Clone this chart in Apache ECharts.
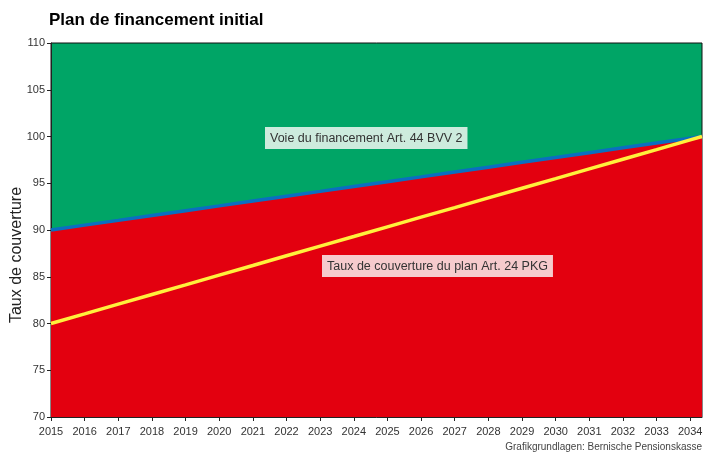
<!DOCTYPE html>
<html><head><meta charset="utf-8">
<script src="https://cdn.jsdelivr.net/npm/echarts@6/dist/echarts.min.js"></script>
<style>html,body{margin:0;padding:0;background:#fff}#c{width:704px;height:452px}</style>
</head><body><div id="c"></div>
<script>
const years = [2015, 2016, 2017, 2018, 2019, 2020, 2021, 2022, 2023, 2024, 2025, 2026, 2027, 2028, 2029, 2030, 2031, 2032, 2033, 2034];
const voieFinancement = [90, 90.52, 91.03, 91.55, 92.07, 92.58, 93.10, 93.62, 94.13, 94.65, 95.17, 95.68, 96.20, 96.72, 97.24, 97.75, 98.27, 98.79, 99.30, 99.82];
const tauxPlan = [80, 81.03, 82.07, 83.10, 84.13, 85.17, 86.20, 87.24, 88.27, 89.30, 90.34, 91.37, 92.40, 93.44, 94.47, 95.50, 96.54, 97.57, 98.60, 99.64];
// end of the plotted period (right edge of the chart) and the values reached there
const xEnd = 2034.35;
const voieEnd = 100;
const tauxEnd = 100;
const yMin = 70, yMax = 110, yStep = 5;

const voieData = years.map((y, i) => [y, voieFinancement[i]]).concat([[xEnd, voieEnd]]);
const tauxData = years.map((y, i) => [y, tauxPlan[i]]).concat([[xEnd, tauxEnd]]);

const font = '"Liberation Sans", Arial, Helvetica, sans-serif';
const chart = echarts.init(document.getElementById('c'));
chart.setOption({
  animation: false,
  title: {text: 'Plan de financement initial', left: 44, top: 7,
    textStyle: {fontFamily: font, fontWeight: 'bold', fontSize: 17, color: '#000'}},
  grid: {left: 51, right: 2, top: 43, bottom: 35, show: true, backgroundColor: '#00A566',
    borderColor: '#111', borderWidth: 1, containLabel: false, outerBoundsMode: 'none'},
  xAxis: {type: 'value', min: years[0], max: xEnd, interval: 1,
    axisLine: {lineStyle: {color: '#222', width: 1}},
    axisTick: {show: true, length: 4, lineStyle: {color: '#222'}},
    axisLabel: {fontFamily: font, fontSize: 11, color: '#333', margin: 9,
      showMaxLabel: false, formatter: v => String(v)},
    splitLine: {show: false}},
  yAxis: {type: 'value', min: yMin, max: yMax, interval: yStep,
    axisLine: {show: true, lineStyle: {color: '#222', width: 1}},
    axisTick: {show: true, length: 4, lineStyle: {color: '#222'}},
    axisLabel: {fontFamily: font, fontSize: 11, color: '#333', margin: 6},
    splitLine: {show: false}},
  series: [
    {type: 'line', data: voieData, symbol: 'none', z: 2,
      lineStyle: {color: '#0A6FC0', width: 3.5},
      areaStyle: {color: '#E3000F', opacity: 1, origin: 'start'}},
    {type: 'line', data: tauxData, symbol: 'none', z: 3,
      lineStyle: {color: '#FFF03C', width: 3.5}}
  ],
  graphic: [
    {type: 'text', x: 17, y: 255, rotation: Math.PI / 2, z: 10,
      style: {text: 'Taux de couverture', fontFamily: font, fontSize: 16, fill: '#222',
        align: 'center', verticalAlign: 'middle'}},
    {type: 'text', left: 265, top: 127, z: 10,
      style: {text: 'Voie du financement Art. 44 BVV 2', fontFamily: font, fontSize: 12.5, fill: '#333',
        backgroundColor: '#CDEBDD', padding: [5, 5, 4, 5]}},
    {type: 'text', left: 322, top: 255, z: 10,
      style: {text: 'Taux de couverture du plan Art. 24 PKG', fontFamily: font, fontSize: 12.5, fill: '#333',
        backgroundColor: '#F6CBCD', padding: [5, 5, 4, 5]}},
    {type: 'text', right: 2, top: 442, z: 10,
      style: {text: 'Grafikgrundlagen: Bernische Pensionskasse', fontFamily: font, fontSize: 10, fill: '#444'}}
  ]
});
</script></body></html>
